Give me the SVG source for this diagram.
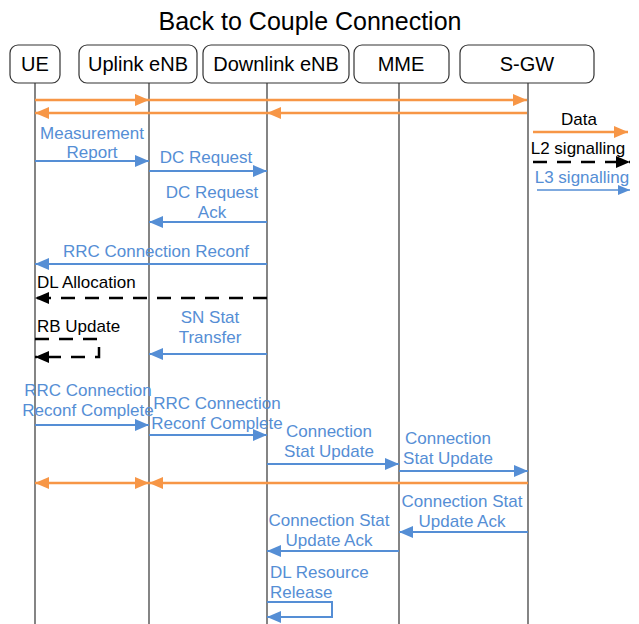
<svg xmlns="http://www.w3.org/2000/svg" width="639" height="624" viewBox="0 0 639 624">
<style>
text{font-family:"Liberation Sans",Arial,sans-serif}
.title{font-size:25px;fill:#000;text-anchor:middle}
.hdr{font-size:20px;fill:#000;text-anchor:middle}
.box{fill:#fff;stroke:#333;stroke-width:1.2}
.life{stroke:#333;stroke-width:1.2}
.lb{font-size:17px;fill:#558ED5;text-anchor:middle}
.lk{font-size:17px;fill:#000}
.lbs{font-size:17px;fill:#558ED5}
.or{stroke:#F79646;stroke-width:2.5;fill:none}
.bl{stroke:#558ED5;stroke-width:2;fill:none}
.dk{stroke:#000;stroke-width:2.5;fill:none;stroke-dasharray:14 10}
</style>
<defs>
<marker id="ao" markerUnits="userSpaceOnUse" markerWidth="14" markerHeight="12" refX="14" refY="6" orient="auto"><path d="M0,0 L14,6 L0,12 z" fill="#F79646"/></marker>
<marker id="ab" markerUnits="userSpaceOnUse" markerWidth="14" markerHeight="12" refX="14" refY="6" orient="auto"><path d="M0,0 L14,6 L0,12 z" fill="#558ED5"/></marker>
<marker id="ak" markerUnits="userSpaceOnUse" markerWidth="14" markerHeight="12" refX="14" refY="6" orient="auto"><path d="M0,0 L14,6 L0,12 z" fill="#000"/></marker>
<marker id="abs" markerUnits="userSpaceOnUse" markerWidth="12" markerHeight="10" refX="12" refY="5" orient="auto"><path d="M0,0 L12,5 L0,10 z" fill="#558ED5"/></marker>
</defs>
<rect width="639" height="624" fill="#fff"/>
<text class="title" x="310" y="30">Back to Couple Connection</text>

<g id="lifelines">
<line class="life" x1="35" y1="83" x2="35" y2="624"/>
<line class="life" x1="149" y1="83" x2="149" y2="624"/>
<line class="life" x1="267" y1="83" x2="267" y2="624"/>
<line class="life" x1="399" y1="83" x2="399" y2="624"/>
<line class="life" x1="528" y1="83" x2="528" y2="624"/>
</g>

<g id="ue"><rect class="box" x="10" y="45" width="50" height="38" rx="8"/><text class="hdr" x="35" y="71">UE</text></g>
<g id="uplink"><rect class="box" x="79" y="45" width="118" height="38" rx="8"/><text class="hdr" x="138" y="71">Uplink eNB</text></g>
<g id="downlink"><rect class="box" x="203" y="45" width="146" height="38" rx="8"/><text class="hdr" x="276" y="71">Downlink eNB</text></g>
<g id="mme"><rect class="box" x="354" y="45" width="95" height="38" rx="8"/><text class="hdr" x="401" y="71">MME</text></g>
<g id="sgw"><rect class="box" x="460" y="45" width="134" height="38" rx="8"/><text class="hdr" x="527" y="71">S-GW</text></g>

<g id="connectors">
<line class="or" x1="35" y1="100" x2="149" y2="100" marker-end="url(#ao)"/>
<line class="or" x1="149" y1="100" x2="527" y2="100" marker-end="url(#ao)"/>
<line class="or" x1="527" y1="113" x2="267" y2="113" marker-end="url(#ao)"/>
<line class="or" x1="267" y1="113" x2="35" y2="113" marker-end="url(#ao)"/>

<line class="bl" x1="35" y1="161" x2="149" y2="161" marker-end="url(#ab)"/>
<line class="bl" x1="149" y1="171" x2="267" y2="171" marker-end="url(#ab)"/>
<line class="bl" x1="267" y1="222" x2="149" y2="222" marker-end="url(#ab)"/>
<line class="bl" x1="267" y1="264" x2="35" y2="264" marker-end="url(#ab)"/>
<line class="dk" x1="267" y1="298" x2="35" y2="298" marker-end="url(#ak)"/>
<path class="dk" d="M35,339 H99 V357 H35" marker-end="url(#ak)"/>
<line class="bl" x1="267" y1="354" x2="149" y2="354" marker-end="url(#ab)"/>
<line class="bl" x1="35" y1="425" x2="149" y2="425" marker-end="url(#ab)"/>
<line class="bl" x1="149" y1="435" x2="267" y2="435" marker-end="url(#ab)"/>
<line class="bl" x1="267" y1="464" x2="399" y2="464" marker-end="url(#ab)"/>
<line class="bl" x1="399" y1="471" x2="528" y2="471" marker-end="url(#ab)"/>
<line class="or" x1="92" y1="483" x2="149" y2="483" marker-end="url(#ao)"/>
<line class="or" x1="92" y1="483" x2="35" y2="483" marker-end="url(#ao)"/>
<line class="or" x1="528" y1="483" x2="149" y2="483" marker-end="url(#ao)"/>
<line class="bl" x1="528" y1="532" x2="399" y2="532" marker-end="url(#ab)"/>
<line class="bl" x1="399" y1="551" x2="267" y2="551" marker-end="url(#ab)"/>
<path class="bl" d="M267,602 H332 V617 H267" marker-end="url(#ab)"/>

<line class="or" x1="533" y1="132" x2="628" y2="132" marker-end="url(#ao)"/>
<line class="dk" x1="533" y1="162" x2="630" y2="162" marker-end="url(#ak)"/>
<line stroke="#558ED5" stroke-width="1.5" x1="537" y1="190" x2="630" y2="190" marker-end="url(#abs)"/>
</g>

<g id="labels">
<text class="lb" x="92" y="139">Measurement</text>
<text class="lb" x="92" y="158">Report</text>
<text class="lb" x="206" y="163">DC Request</text>
<text class="lb" x="212" y="198">DC Request</text>
<text class="lb" x="212" y="218">Ack</text>
<text class="lb" x="156" y="257">RRC Connection Reconf</text>
<text class="lk" x="37" y="288">DL Allocation</text>
<text class="lk" x="37" y="332">RB Update</text>
<text class="lb" x="210" y="323">SN Stat</text>
<text class="lb" x="210" y="343">Transfer</text>
<text class="lb" x="88" y="396">RRC Connection</text>
<text class="lb" x="88" y="416">Reconf Complete</text>
<text class="lb" x="217" y="409">RRC Connection</text>
<text class="lb" x="217" y="429">Reconf Complete</text>
<text class="lb" x="329" y="437">Connection</text>
<text class="lb" x="329" y="457">Stat Update</text>
<text class="lb" x="448" y="444">Connection</text>
<text class="lb" x="448" y="464">Stat Update</text>
<text class="lb" x="462" y="507">Connection Stat</text>
<text class="lb" x="462" y="527">Update Ack</text>
<text class="lb" x="329" y="526">Connection Stat</text>
<text class="lb" x="329" y="546">Update Ack</text>
<text class="lbs" x="270" y="578">DL Resource</text>
<text class="lbs" x="270" y="598">Release</text>
<text class="lk" x="579" y="125" text-anchor="middle">Data</text>
<text class="lk" x="578" y="154" text-anchor="middle">L2 signalling</text>
<text class="lb" x="582" y="183">L3 signalling</text>
</g>
</svg>
